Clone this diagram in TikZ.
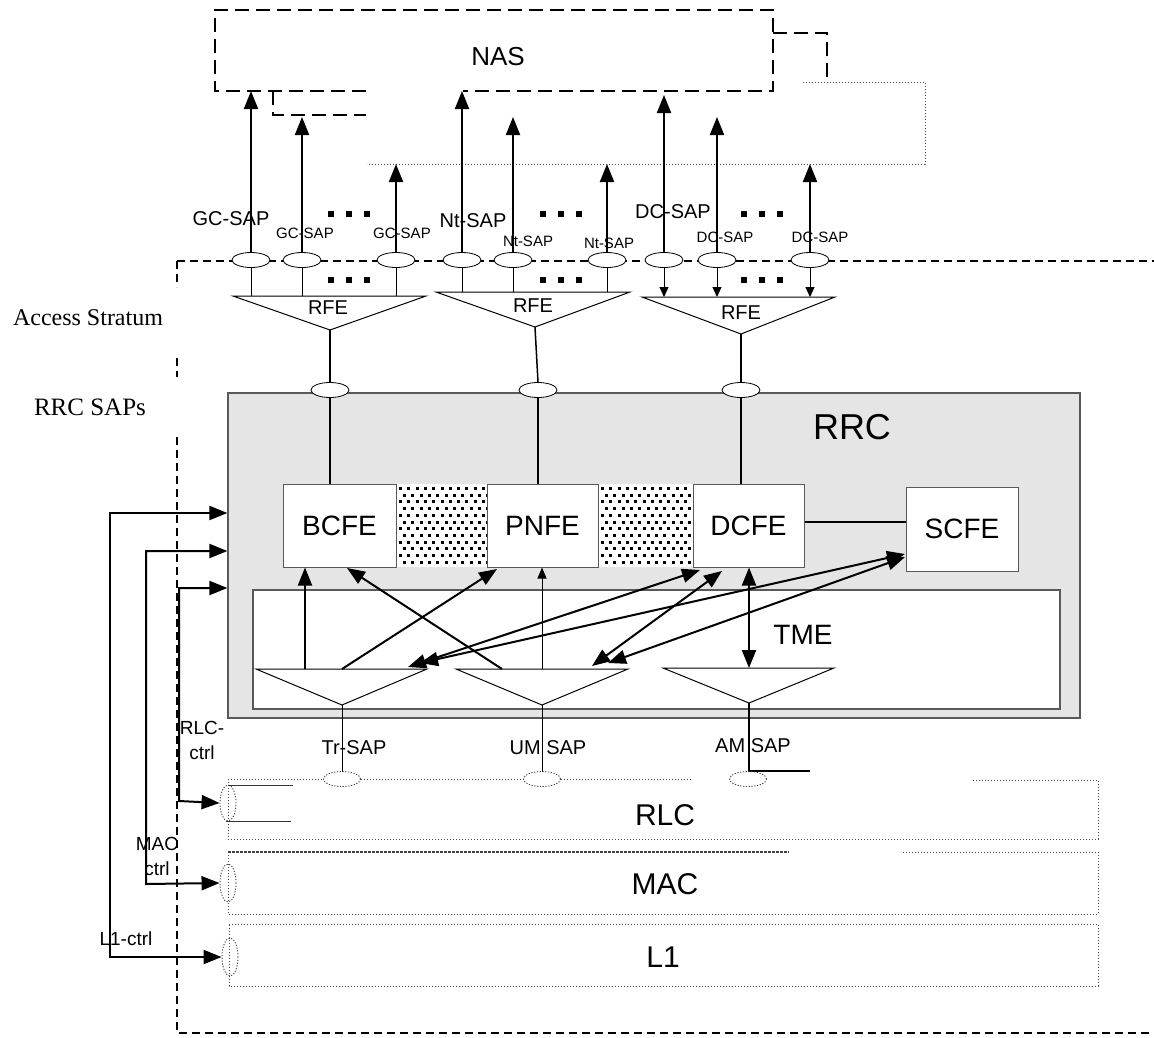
\documentclass[tikz,border=0pt]{standalone}
\usepackage{fontspec}
\setmainfont{Liberation Sans}
\newfontfamily\seriff{Liberation Serif}
\usetikzlibrary{arrows.meta,shapes.geometric}
\definecolor{rrcgray}{RGB}{229,229,229}
\begin{document}
\begin{tikzpicture}[x=1pt,y=-1pt,
  lbl/.style={inner sep=0pt, font=\fontsize{20}{22}\selectfont},
  slbl/.style={inner sep=0pt, font=\fontsize{15}{17}\selectfont},
  fe/.style={draw=black!65, fill=white, line width=1pt, minimum height=83pt, inner sep=0pt, font=\fontsize{28}{30}\selectfont},
  sapE/.style={draw, ellipse, fill=white, minimum width=38pt, minimum height=15pt, inner sep=0pt, line width=0.8pt},
  dotE/.style={draw=black!75, dash pattern=on 1.2pt off 1.6pt, ellipse, inner sep=0pt, line width=0.9pt},
  nasdash/.style={line width=2pt, dash pattern=on 14pt off 7pt},
  asdash/.style={line width=1.5pt, dash pattern=on 8pt off 5pt},
  dotl/.style={draw=black!70, line width=1pt, dash pattern=on 1.2pt off 1.8pt},
  thinl/.style={line width=1pt},
  medl/.style={line width=1.5pt},
  thickl/.style={line width=2pt},
  bigtip/.style={-{Triangle[length=18pt,width=14pt]}},
  dbltip/.style={{Triangle[length=18pt,width=14pt]}-{Triangle[length=18pt,width=14pt]}},
  midtip/.style={-{Triangle[length=11pt,width=9pt]}},
  smalltip/.style={-{Triangle[length=10pt,width=9pt]}},
  laylbl/.style={inner sep=0pt, font=\fontsize{30}{32}\selectfont}
]
\useasboundingbox (0,0) rectangle (1154,1037);

% ---------------- NAS ----------------
\draw[nasdash] (366,91) -- (215,91) -- (215,10) -- (773,10) -- (773,91) -- (463,91);
\draw[nasdash] (273,91) -- (273,115) -- (366,115);
\draw[nasdash] (773,33) -- (827,33) -- (827,82);
\draw[dotl] (803,82) -- (925,82) -- (925,164) -- (367,164);
\node[inner sep=0pt, font=\fontsize{26}{28}\selectfont] (nas) at (498,57) {NAS};
\coordinate (nasB) at (0,91);
\coordinate (dcB) at (0,95);
\coordinate (stepB) at (0,117);
\coordinate (dotB) at (0,164);

% ---------------- Access stratum frame ----------------
\draw[asdash] (177,261) -- (1154,261);
\draw[asdash] (177,261) -- (177,287);
\draw[asdash] (177,358) -- (177,377);
\draw[asdash] (177,437) -- (177,1033) -- (1154,1033);
\node[inner sep=0pt, font=\seriff\fontsize{24}{26}\selectfont] (as) at (88,318) {Access Stratum};
\node[inner sep=0pt, font=\seriff\fontsize{25}{27}\selectfont] (rrcsaps) at (90,407) {RRC SAPs};

% ---------------- top SAPs ----------------
\foreach \n/\x in {gc1/251, gc2/302, gc3/396, nt1/462, nt2/513, nt3/607, dc1/664, dc2/717, dc3/810} {
  \node[sapE] (e\n) at (\x,260) {};
}
\draw[thickl,bigtip] (egc1.north) -- (egc1.north |- nasB);
\draw[thickl,bigtip] (egc2.north) -- (egc2.north |- stepB);
\draw[thickl,bigtip] (egc3.north) -- (egc3.north |- dotB);
\draw[thickl,bigtip] (ent1.north) -- (ent1.north |- nasB);
\draw[thickl,bigtip] (ent2.north) -- (ent2.north |- stepB);
\draw[thickl,bigtip] (ent3.north) -- (ent3.north |- dotB);
\draw[thickl,bigtip] (edc1.north) -- (edc1.north |- dcB);
\draw[thickl,bigtip] (edc2.north) -- (edc2.north |- stepB);
\draw[thickl,bigtip] (edc3.north) -- (edc3.north |- dotB);

\node[lbl] (lgc1) at (231,219) {GC-SAP};
\node[slbl] (lgc2) at (305,233) {GC-SAP};
\node[slbl] (lgc3) at (402,233) {GC-SAP};
\node[lbl] (lnt1) at (473,221) {Nt-SAP};
\node[slbl] (lnt2) at (528,241) {Nt-SAP};
\node[slbl] (lnt3) at (609,243) {Nt-SAP};
\node[lbl] (ldc1) at (673,212) {DC-SAP};
\node[slbl] (ldc2) at (725,237) {DC-SAP};
\node[slbl] (ldc3) at (820,237) {DC-SAP};

\foreach \x in {328,540,741} {
  \foreach \k in {0,1,2} {
    \fill ({\x+\k*18},211) rectangle ++(6,6);
    \fill ({\x+\k*18},277) rectangle ++(6,6);
  }
}

% ---------------- RFE triangles ----------------
\coordinate (rgL) at (233,296); \coordinate (rgR) at (426,296); \coordinate (rgA) at (330,330);
\coordinate (rnL) at (436,292); \coordinate (rnR) at (630,292); \coordinate (rnA) at (535,327);
\coordinate (rdL) at (642,297); \coordinate (rdR) at (835,297); \coordinate (rdA) at (741,334);
\draw[thinl] (rgL) -- (rgR) -- (rgA) -- cycle;
\draw[thinl] (rnL) -- (rnR) -- (rnA) -- cycle;
\draw[thinl] (rdL) -- (rdR) -- (rdA) -- cycle;
\node[lbl] (rfe1) at (328,308) {RFE};
\node[lbl] (rfe2) at (533,306) {RFE};
\node[lbl] (rfe3) at (741,313) {RFE};
\draw[thinl] (egc1.south) -- (egc1.south |- rgL);
\draw[thinl] (egc2.south) -- (egc2.south |- rgL);
\draw[thinl] (egc3.south) -- (egc3.south |- rgL);
\draw[thinl] (ent1.south) -- (ent1.south |- rnL);
\draw[thinl] (ent2.south) -- (ent2.south |- rnL);
\draw[thinl] (ent3.south) -- (ent3.south |- rnL);
\draw[thinl,smalltip] (edc1.south) -- (edc1.south |- rdL);
\draw[thinl,smalltip] (edc2.south) -- (edc2.south |- rdL);
\draw[thinl,smalltip] (edc3.south) -- (edc3.south |- rdL);

% ---------------- RRC ----------------
\node[draw=black!65, fill=rrcgray, line width=1.2pt, minimum width=852pt, minimum height=325pt, inner sep=0pt] (rrc) at (654,555.5) {};
\node[laylbl, font=\fontsize{36}{38}\selectfont] (rrclbl) at (852,427) {RRC};
\node[draw=black!65, fill=white, line width=1.2pt, minimum width=807pt, minimum height=119pt, inner sep=0pt] (tme) at (656.5,649.5) {};
\node[inner sep=0pt, font=\fontsize{28}{30}\selectfont] (tmelbl) at (803,635) {TME};

% dotted pattern between the boxes
\fill[white] (396,484) rectangle (487,567);
\fill[white] (598,484) rectangle (693,567);
\foreach \i in {0,...,10} {
  \foreach \j in {0,...,11} {
    \fill ({399+\i*8.3+mod(\j,2)*4.1},{487+\j*6.7}) rectangle ++(3,3);
    \fill ({601+\i*8.3+mod(\j,2)*4.1},{487+\j*6.7}) rectangle ++(3,3);
  }
}

\node[fe, minimum width=113pt] (bcfe) at (339.5,525.5) {BCFE};
\node[fe, minimum width=111pt] (pnfe) at (542.5,525.5) {PNFE};
\node[fe, minimum width=111pt] (dcfe) at (748.5,525.5) {DCFE};
\node[fe, minimum width=112pt, minimum height=84pt] (scfe) at (962,529) {SCFE};
\coordinate (lk) at (0,522);
\draw[medl] (dcfe.east |- lk) -- (scfe.west |- lk);

% RRC SAP ellipses
\node[sapE] (srg) at (330,390) {};
\node[sapE] (srn) at (538,390) {};
\node[sapE] (srd) at (741,390) {};
\draw[medl] (rgA) -- (srg.north);
\draw[medl] (rnA) -- (srn.north);
\draw[medl] (rdA) -- (srd.north);
\draw[medl] (srg.south) -- (bcfe.north -| srg.south);
\draw[medl] (srn.south) -- (pnfe.north -| srn.south);
\draw[medl] (srd.south) -- (dcfe.north -| srd.south);

% SAP triangles in TME
\coordinate (ttL) at (256,669); \coordinate (ttR) at (427,669); \coordinate (ttA) at (342,705);
\coordinate (tuL) at (456,669); \coordinate (tuR) at (628,669); \coordinate (tuA) at (542,705);
\coordinate (taL) at (663,668); \coordinate (taR) at (834,668); \coordinate (taA) at (749,703);
\draw[thinl] (ttL) -- (ttR) -- (ttA) -- cycle;
\draw[thinl] (tuL) -- (tuR) -- (tuA) -- cycle;
\draw[thinl] (taL) -- (taR) -- (taA) -- cycle;

% arrows inside RRC
\coordinate (t1) at (305,669);
\coordinate (t2) at (342,669);
\coordinate (t3) at (408,667);
\coordinate (t4) at (420,663);
\coordinate (u1) at (502,669);
\coordinate (u2) at (542,669);
\coordinate (u3) at (592,666);
\coordinate (u4) at (608,663);
\coordinate (a1) at (749,668);
\coordinate (bcB) at (347,568);
\coordinate (pnB) at (497,569);
\coordinate (dcB1) at (700,570);
\coordinate (dcB2) at (722,571);
\coordinate (scA) at (905,554);
\coordinate (scB) at (905,557);
\draw[thickl,bigtip] (t1) -- (t1 |- bcfe.south);
\draw[thickl,bigtip] (u1) -- (bcB);
\draw[thickl,bigtip] (t2) -- (pnB);
\draw[thinl,midtip] (u2) -- (u2 |- pnfe.south);
\draw[thickl,dbltip] (t3) -- (dcB1);
\draw[thickl,dbltip] (t4) -- (scA);
\draw[thickl,dbltip] (u3) -- (dcB2);
\draw[thickl,dbltip] (u4) -- (scB);
\draw[thickl,dbltip] (a1) -- (a1 |- dcfe.south);

% lines down to RLC SAPs
\coordinate (rlcT) at (0,772);
\draw[thinl] (ttA) -- (ttA |- rlcT);
\draw[thinl] (tuA) -- (tuA |- rlcT);
\draw[thickl] (taA) -- (taA |- rlcT);
\coordinate (amE) at (810,771);
\draw[medl] (taA |- amE) -- (amE);
\node[lbl] (ltr) at (354,748) {Tr-SAP};
\node[lbl] (lum) at (548,748) {UM SAP};
\node[lbl] (lam) at (753,746) {AM SAP};

% ---------------- RLC / MAC / L1 ----------------
\node[dotE, minimum width=37pt, minimum height=15pt] (etr) at (342,779) {};
\node[dotE, minimum width=37pt, minimum height=15pt] (eum) at (542,779) {};
\node[dotE, minimum width=37pt, minimum height=15pt] (eam) at (748,779) {};
\draw[dotl] (228,779) -- (etr.west);
\draw[dotl] (etr.east) -- (eum.west);
\draw[dotl] (eum.east) -- (692,779);
\draw[dotl] (973,780) -- (1098,780) -- (1098,839) -- (228,839) -- (228,779);
\node[dotE, minimum width=16pt, minimum height=36pt] (erlc) at (228,803) {};
\draw[thinl, black!80] (228,785) -- (293,785);
\draw[thinl, black!80] (226,821) -- (291,821);
\node[laylbl] (rlc) at (665,815) {RLC};

\draw[line width=1.2pt, black!75, dash pattern=on 3pt off 1pt] (228,852) -- (789,852);
\draw[dotl] (903,852) -- (1098,852) -- (1098,914) -- (228,914) -- (228,852);
\node[dotE, minimum width=16pt, minimum height=38pt] (emac) at (228,883) {};
\node[laylbl] (mac) at (665,884) {MAC};

\draw[dotl] (229,924) -- (1098,924) -- (1098,986) -- (229,986) -- cycle;
\node[dotE, minimum width=16pt, minimum height=38pt] (el1) at (230,957) {};
\node[laylbl] (l1) at (663,957) {L1};

% ---------------- control arrows ----------------
\coordinate (c1) at (110,513);
\coordinate (c1b) at (110,957);
\coordinate (c2) at (146,551);
\coordinate (c2b) at (146,884);
\coordinate (c3) at (179,588);
\coordinate (c3b) at (179,801);
\draw[thickl,dbltip] (rrc.west |- c1) -- (c1) -- (c1b) -- (el1.west);
\draw[thickl,dbltip] (rrc.west |- c2) -- (c2) -- (c2b) -- (emac.west);
\draw[thickl,dbltip] (rrc.west |- c3) -- (c3) -- (c3b) -- (erlc.west);
\node[lbl, align=center, font=\fontsize{19}{25}\selectfont] (lrlcc) at (202,740) {RLC-\\ctrl};
\node[lbl, align=center, font=\fontsize{19}{25}\selectfont] (lmacc) at (157,856) {MAC\\ctrl};
\node[lbl, font=\fontsize{19}{21}\selectfont] (ll1c) at (126,939) {L1-ctrl};
\end{tikzpicture}
\end{document}
